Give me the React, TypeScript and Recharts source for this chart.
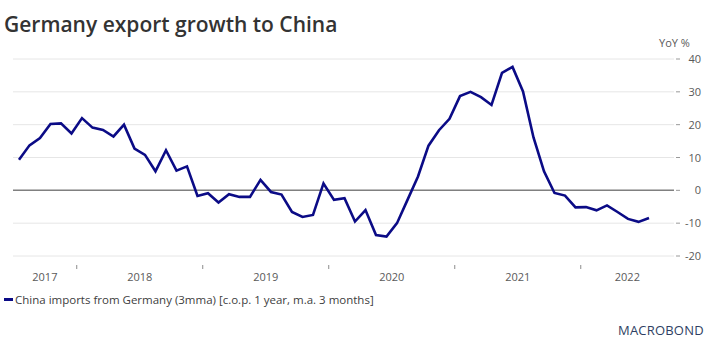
import { LineChart, Line, XAxis, YAxis, CartesianGrid, ReferenceLine } from 'recharts'

const MONTHS = ['Jan', 'Feb', 'Mar', 'Apr', 'May', 'Jun', 'Jul', 'Aug', 'Sep', 'Oct', 'Nov', 'Dec']
const YEARS = ['2017', '2018', '2019', '2020', '2021', '2022']

// China imports from Germany, YoY %, 3mma (Jul 2017 .. Jul 2022)
const V2017 = [9.3, 13.7, 15.9, 20.2, 20.4, 17.3]
const V2018 = [22.0, 19.1, 18.4, 16.4, 20.0, 12.7, 10.8, 5.8, 12.2, 6.0, 7.3, -1.7]
const V2019 = [-0.9, -3.7, -1.2, -2.0, -2.0, 3.2, -0.5, -1.3, -6.6, -8.1, -7.5, 2.1]
const V2020 = [-2.9, -2.4, -9.5, -6.0, -13.6, -14.1, -10.0, -2.9, 4.2, 13.6, 18.3, 21.8]
const V2021 = [28.7, 30.0, 28.4, 26.0, 35.8, 37.6, 30.1, 16.1, 5.8, -0.8, -1.6, -5.2]
const V2022 = [-5.1, -6.1, -4.6, -6.6, -8.7, -9.6, -8.4]

const Y_TICKS = [-20, -10, 0, 10, 20, 30, 40]

const SERIES = [V2017, V2018, V2019, V2020, V2021, V2022]
const FIRST_MONTH = 6 // July

const data = SERIES.flatMap((vals, yi) =>
  vals.map((v, mi) => {
    const m = yi === 0 ? FIRST_MONTH + mi : mi
    return { label: `${MONTHS[m]} ${YEARS[yi]}`, v }
  }),
).map((d, i) => ({ ...d, x: i }))

// index of a point = month since Jul 2017 (mid-month); year starts at x.5
const X_DOMAIN: [number, number] = [-0.57, 62.38]
const BOUNDARIES = YEARS.slice(1).map((_, i) => 5.5 + 12 * i)
const LABEL_POS = YEARS.map((_, i) => {
  const start = i === 0 ? X_DOMAIN[0] : BOUNDARIES[i - 1]
  const end = i === YEARS.length - 1 ? X_DOMAIN[1] : BOUNDARIES[i]
  return (start + end) / 2
})

const FONT = '"Segoe UI", "Open Sans", "Noto Sans", sans-serif'
const TEXT_GREY = '#595959'

function YearTick({ x, y, payload }: any) {
  const v = payload.value
  const bi = BOUNDARIES.indexOf(v)
  if (bi >= 0) {
    return <line x1={x} x2={x} y1={y + 9} y2={y + 13} stroke="#8c8c8c" strokeWidth={1} />
  }
  const li = LABEL_POS.indexOf(v)
  return (
    <text x={x} y={y + 25} textAnchor="middle" fontSize={11} fontFamily={FONT} fill={TEXT_GREY}>
      {YEARS[li]}
    </text>
  )
}

function ValueTick({ x, y, payload }: any) {
  return (
    <g>
      <line x1={x + 2} x2={x + 6} y1={y} y2={y} stroke="#999" strokeWidth={1} />
      <text x={x + 27} y={y + 4} textAnchor="end" fontSize={11} fontFamily={FONT} fill={TEXT_GREY}>
        {payload.value}
      </text>
    </g>
  )
}

export default function App() {
  return (
    <div style={{ position: 'relative', width: 708, height: 338, background: '#fff', fontFamily: FONT }}>
      <style>{'body{margin:0}'}</style>
      <div
        style={{
          position: 'absolute',
          left: 4,
          top: 10,
          fontSize: 21,
          fontWeight: 600,
          color: '#333',
          whiteSpace: 'nowrap',
        }}
      >
        Germany export growth to China
      </div>
      <div style={{ position: 'absolute', left: 659, top: 35, fontSize: 11, color: TEXT_GREY }}>YoY %</div>
      <LineChart width={708} height={338} data={data} margin={{ top: 59, right: 0, left: 13, bottom: 52 }}>
        <CartesianGrid vertical={false} stroke="#e6e6e6" strokeWidth={1} />
        <XAxis
          dataKey="x"
          type="number"
          domain={X_DOMAIN}
          allowDataOverflow
          ticks={[...BOUNDARIES, ...LABEL_POS]}
          interval={0}
          tick={<YearTick />}
          tickLine={false}
          axisLine={false}
          tickSize={0}
          tickMargin={0}
          height={30}
        />
        <YAxis
          orientation="right"
          domain={[-20, 40]}
          ticks={Y_TICKS}
          interval={0}
          tick={<ValueTick />}
          tickLine={false}
          axisLine={false}
          tickSize={0}
          tickMargin={0}
          width={34}
        />
        <ReferenceLine y={0} stroke="#808080" strokeWidth={1.5} />
        <Line
          dataKey="v"
          type="linear"
          stroke="#0b0b86"
          strokeWidth={2.6}
          dot={false}
          isAnimationActive={false}
        />
      </LineChart>
      <div
        style={{
          position: 'absolute',
          left: 4,
          top: 292,
          fontSize: 11.5,
          color: '#404040',
          display: 'flex',
          alignItems: 'center',
          whiteSpace: 'nowrap',
        }}
      >
        <span style={{ display: 'inline-block', width: 9, height: 3, background: '#0b0b86', marginRight: 2 }} />
        China imports from Germany (3mma) [c.o.p. 1 year, m.a. 3 months]
      </div>
      <div
        style={{
          position: 'absolute',
          left: 618,
          top: 321,
          fontSize: 13,
          fontWeight: 500,
          letterSpacing: 0.2,
          color: '#2f3f63',
          whiteSpace: 'nowrap',
        }}
      >
        MACROBOND
      </div>
    </div>
  )
}
